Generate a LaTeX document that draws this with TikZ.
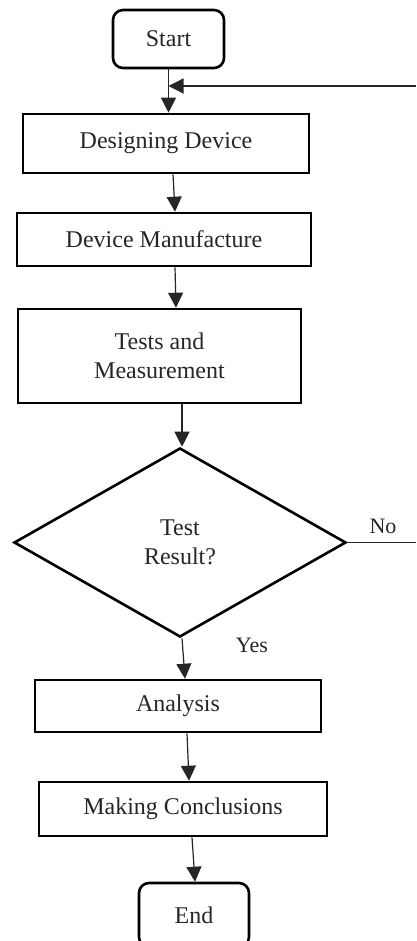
\documentclass[tikz,border=0pt]{standalone}
\usepackage{fontspec}
\setmainfont{Liberation Serif}
\usetikzlibrary{arrows.meta,shapes.geometric}
\begin{document}
\begin{tikzpicture}[x=1pt,y=-1pt,
  every node/.style={font=\fontsize{24}{28.5}\selectfont, align=center, inner sep=0pt, text=black!85},
  box/.style={draw, line width=2.6pt},
  term/.style={draw, line width=2.6pt, rounded corners=10pt},
  conn/.style={line width=1.2pt, draw=black!85},
  arr/.style={conn, -{Triangle[length=15pt,width=15pt]}},
  lbl/.style={font=\fontsize{22}{26}\selectfont}
]
\useasboundingbox (0,0) rectangle (416,941);
\node[term, minimum width=111pt, minimum height=58pt] (start) at (168.5,39) {Start};
\node[box, minimum width=286pt, minimum height=59pt] (dd) at (166,143.5) {Designing Device};
\node[box, minimum width=294pt, minimum height=53pt] (dm) at (164,239.5) {Device Manufacture};
\node[box, minimum width=283pt, minimum height=94pt] (tm) at (159.5,356) {Tests and\\Measurement};
\node[diamond, draw, line width=2.6pt, minimum width=332pt, minimum height=189pt] (dec) at (180,542.5) {Test\\Result?};
\node[box, minimum width=286pt, minimum height=52pt] (an) at (178,706) {Analysis};
\node[box, minimum width=288pt, minimum height=54pt] (mc) at (183,809) {Making Conclusions};
\node[term, minimum width=110pt, minimum height=64pt] (end) at (194,915) {End};
\node[lbl] (no) at (383,526) {No};
\node[lbl] (yes) at (252,645) {Yes};
\coordinate (fb) at (416,86);
\coordinate (nofree) at (416,542.5);
\draw[arr] (start.south) -- (dd.north -| start.south);
\draw[arr] (fb) -- (fb -| start.south);
\draw[arr] (dd.south -| 173,0) -- (dm.north -| 175,0);
\draw[arr] (dm.south -| 175,0) -- (tm.north -| 176,0);
\draw[arr] (tm.south -| 182,0) -- (dec.north -| 182,0);
\draw[arr] (dec.south -| 182,0) -- (an.north -| 185,0);
\draw[arr] (an.south -| 187,0) -- (mc.north -| 189,0);
\draw[arr] (mc.south -| 192,0) -- (end.north -| 195,0);
\draw[conn] (dec.east) -- (nofree);
\end{tikzpicture}
\end{document}
